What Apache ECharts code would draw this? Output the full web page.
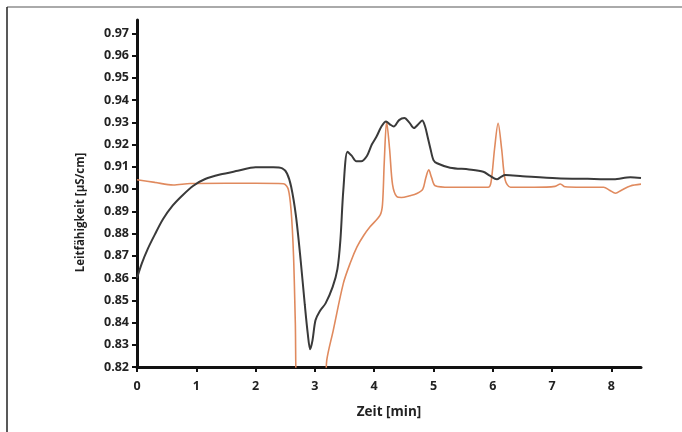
<!DOCTYPE html>
<html>
<head>
<meta charset="utf-8">
<script src="https://cdn.jsdelivr.net/npm/echarts@6/dist/echarts.min.js"></script>
<style>
  html, body { margin: 0; padding: 0; background: #fff; }
  #chart { width: 682px; height: 432px; }
</style>
</head>
<body>
<div id="chart"></div>
<script>
// Leitfähigkeit über Zeit, zwei Messkurven

// schwarze Kurve: [Zeit (min), Leitfähigkeit]
const blackCurve = [
    [0, 0.860], [0.08, 0.8665], [0.18, 0.873], [0.3, 0.8795], [0.44, 0.8865],
    [0.6, 0.8925], [0.76, 0.897], [0.95, 0.9015], [1.15, 0.9045], [1.4, 0.9065],
    [1.7, 0.9082], [2.0, 0.9098], [2.3, 0.9098], [2.45, 0.9093], [2.53, 0.907],
    [2.60, 0.901], [2.68, 0.888], [2.76, 0.868], [2.83, 0.848], [2.88, 0.835],
    [2.92, 0.828], [2.96, 0.832], [3.01, 0.841], [3.08, 0.845], [3.18, 0.8486],
    [3.30, 0.856], [3.38, 0.864], [3.43, 0.877], [3.48, 0.8996], [3.55, 0.9168],
    [3.62, 0.915], [3.70, 0.9125], [3.78, 0.9125], [3.88, 0.915], [3.96, 0.920],
    [4.04, 0.9236], [4.12, 0.928], [4.20, 0.9304], [4.27, 0.929], [4.33, 0.9281],
    [4.42, 0.931], [4.51, 0.9319], [4.59, 0.930], [4.67, 0.9274], [4.74, 0.929],
    [4.81, 0.9308], [4.86, 0.928], [4.90, 0.9236], [4.95, 0.918], [5.00, 0.913],
    [5.06, 0.9116], [5.28, 0.9096], [5.6, 0.9088], [5.84, 0.9078], [5.95, 0.906],
    [6.07, 0.9044], [6.14, 0.9055], [6.21, 0.9063], [6.5, 0.9058], [7.08, 0.9049],
    [7.6, 0.9046], [8.04, 0.9044], [8.32, 0.9053], [8.5, 0.905]
];

// orange Kurve: [Zeit (min), Leitfähigkeit]
const orangeCurve = [
    [0, 0.9042], [0.3, 0.903], [0.61, 0.9018], [0.9, 0.9025], [1.5, 0.9026],
    [2.0, 0.9026], [2.47, 0.9024], [2.55, 0.900], [2.60, 0.890], [2.64, 0.870],
    [2.67, 0.840], [2.70, 0.810], [3.17, 0.810], [3.20, 0.823], [3.31, 0.8365],
    [3.48, 0.8576], [3.60, 0.867], [3.71, 0.874], [3.82, 0.879], [3.93, 0.883],
    [4.10, 0.8883], [4.14, 0.893], [4.17, 0.912], [4.21, 0.9304], [4.26, 0.918],
    [4.31, 0.902], [4.38, 0.8966], [4.46, 0.8962], [4.60, 0.897], [4.72, 0.898],
    [4.82, 0.900], [4.87, 0.905], [4.92, 0.9086], [4.97, 0.905], [5.03, 0.9015],
    [5.28, 0.9008], [5.6, 0.9008], [5.92, 0.9008], [5.97, 0.903], [6.03, 0.918],
    [6.09, 0.9296], [6.15, 0.918], [6.21, 0.904], [6.30, 0.9008], [6.7, 0.9008],
    [7.05, 0.9012], [7.14, 0.9023], [7.22, 0.901], [7.5, 0.9008], [7.87, 0.9008],
    [7.97, 0.8995], [8.07, 0.8981], [8.17, 0.8995], [8.32, 0.9014], [8.5, 0.9022]
];

const yTicks = [0.82, 0.83, 0.84, 0.85, 0.86, 0.87, 0.88, 0.89, 0.90,
                0.91, 0.92, 0.93, 0.94, 0.95, 0.96, 0.97];
const xTicks = [0, 1, 2, 3, 4, 5, 6, 7, 8];

const chart = echarts.init(document.getElementById("chart"));

const labelFont = {
    fontFamily: "Open Sans",
    fontWeight: "bold",
    fontSize: 12.5,
    color: "#222"
};

chart.setOption({
    animation: false,
    backgroundColor: "#fff",
    grid: { left: 137, right: 41, top: 20, bottom: 65 },
    graphic: [
        { type: "line", shape: { x1: 7, y1: 7, x2: 682, y2: 7 }, style: { stroke: "#aaa", lineWidth: 2 } },
        { type: "line", shape: { x1: 7, y1: 7, x2: 7, y2: 432 }, style: { stroke: "#222", lineWidth: 1.5 } }
    ],
    xAxis: {
        type: "value",
        min: 0,
        max: 8.5,
        name: "Zeit [min]",
        nameLocation: "middle",
        nameGap: 38,
        nameTextStyle: Object.assign({}, labelFont, { fontSize: 13.5 }),
        splitLine: { show: false },
        axisLine: { onZero: false, lineStyle: { color: "#111", width: 3 } },
        axisTick: { customValues: xTicks, length: 5, lineStyle: { color: "#111", width: 2 } },
        axisLabel: Object.assign({ customValues: xTicks, margin: 13 }, labelFont)
    },
    yAxis: {
        type: "value",
        min: 0.82,
        max: 0.976,
        name: "Leitfähigkeit [µS/cm]",
        nameLocation: "middle",
        nameGap: 50,
        nameRotate: 90,
        nameTextStyle: Object.assign({}, labelFont, { fontSize: 11.5, padding: [0, 38, 0, 0] }),
        splitLine: { show: false },
        axisLine: { onZero: false, lineStyle: { color: "#111", width: 3 } },
        axisTick: { customValues: yTicks, length: 5, lineStyle: { color: "#111", width: 2 } },
        axisLabel: Object.assign({
            customValues: yTicks,
            margin: 8,
            formatter: v => v.toFixed(2)
        }, labelFont)
    },
    series: [
        {
            name: "orange",
            type: "line",
            data: orangeCurve,
            smooth: 0.3,
            showSymbol: false,
            clip: true,
            lineStyle: { color: "#e08a5e", width: 1.6 },
            z: 2
        },
        {
            name: "schwarz",
            type: "line",
            data: blackCurve,
            smooth: 0.3,
            showSymbol: false,
            clip: true,
            lineStyle: { color: "#3a3a3a", width: 2 },
            z: 3
        }
    ]
});
</script>
</body>
</html>
